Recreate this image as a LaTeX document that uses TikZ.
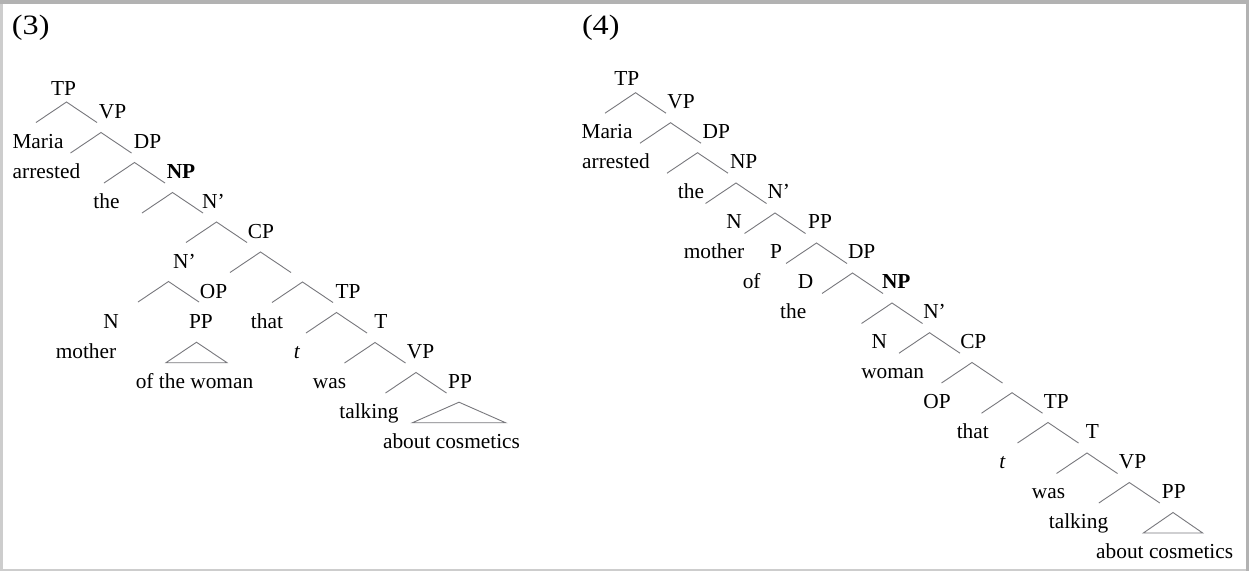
\documentclass[tikz,border=0pt]{standalone}
\usepackage{fontspec}
\setmainfont{Liberation Serif}
\definecolor{linegray}{RGB}{120,120,125}
\definecolor{frametop}{RGB}{178,178,178}
\definecolor{frameside}{RGB}{205,205,205}
\newcommand\mkcaret[3]{%
  \coordinate (#1) at (#2,#3);
  \coordinate (#1l) at ([shift={(-30.5,20.5)}]#1);
  \coordinate (#1r) at ([shift={(30.5,20.5)}]#1);
  \draw[br] (#1l) -- (#1) -- (#1r);}
\newcommand\mktri[4]{%
  \coordinate (#1) at (#2,#3);
  \coordinate (#1l) at ([shift={(-#4,20.5)}]#1);
  \coordinate (#1r) at ([shift={(#4,20.5)}]#1);
  \draw[br] (#1l) -- (#1) -- (#1r) -- cycle;}
\begin{document}
\begin{tikzpicture}[x=1pt,y=-1pt,
  lbl/.style={anchor=base,inner sep=0pt,outer sep=0pt,font=\fontsize{21.35pt}{24pt}\selectfont},
  num/.style={anchor=base west,inner sep=0pt,outer sep=0pt,font=\fontsize{28pt}{30pt}\selectfont},
  br/.style={draw=linegray,line width=0.9pt}]
\useasboundingbox (0,0) rectangle (1249,571);
\fill[white] (0,0) rectangle (1249,571);
\fill[frameside] (0,0) rectangle (3,571);
\fill[frameside] (0,569) rectangle (1249,571);
\fill[frametop] (1246,0) rectangle (1249,571);
\fill[frametop] (0,0) rectangle (1249,4);

% ---------- (3) ----------
\node[num] (n3) at (12,34) {\scalebox{1.15}[1]{(3)}};
\node[lbl] (a1) at (63.5,95) {TP};
\node[lbl] (a2) at (112.5,118) {VP};
\node[lbl] (a3) at (38,148) {Maria};
\node[lbl] (a4) at (147.5,148) {DP};
\node[lbl] (a5) at (46.5,178) {arrested};
\node[lbl] (a6) at (181,178) {\textbf{NP}};
\node[lbl] (a7) at (106.5,208) {the};
\node[lbl] (a8) at (213.5,208) {N’};
\node[lbl] (a9) at (261,238) {CP};
\node[lbl] (a10) at (184.5,268) {N’};
\node[lbl] (a11) at (213.5,298) {OP};
\node[lbl] (a12) at (348,298) {TP};
\node[lbl] (a13) at (111,328) {N};
\node[lbl] (a14) at (201,328) {PP};
\node[lbl] (a15) at (267,328) {that};
\node[lbl] (a16) at (381,328) {T};
\node[lbl] (a17) at (86,358) {mother};
\node[lbl] (a18) at (297,358) {\textit{t}};
\node[lbl] (a19) at (420.5,358) {VP};
\node[lbl] (a20) at (194.5,388) {of the woman};
\node[lbl] (a21) at (329.5,388) {was};
\node[lbl] (a22) at (460,388) {PP};
\node[lbl] (a23) at (369,418) {talking};
\node[lbl] (a24) at (451.5,448) {about cosmetics};

\mkcaret{c1}{66.5}{102}
\mkcaret{c2}{101}{132.5}
\mkcaret{c3}{134.5}{162.5}
\mkcaret{c4}{172.5}{192.5}
\mkcaret{c5}{216.5}{222}
\mkcaret{c6}{260.5}{252}
\mkcaret{c7}{168.5}{281.5}
\mkcaret{c8}{302.5}{282}
\mkcaret{c9}{336.5}{312.5}
\mkcaret{c10}{375}{342.5}
\mkcaret{c11}{416}{372.5}
\mktri{tr1}{196.5}{342.2}{30.5}
\mktri{tr2}{459}{402.2}{46.5}

% ---------- (4) ----------
\node[num] (n4) at (582,34) {\scalebox{1.15}[1]{(4)}};
\node[lbl] (b1) at (626.7,85) {TP};
\node[lbl] (b2) at (681,108.3) {VP};
\node[lbl] (b3) at (607,138.3) {Maria};
\node[lbl] (b4) at (716.3,138.3) {DP};
\node[lbl] (b5) at (616,168.3) {arrested};
\node[lbl] (b6) at (743.7,168.3) {NP};
\node[lbl] (b7) at (691,198.3) {the};
\node[lbl] (b8) at (778.8,198.3) {N’};
\node[lbl] (b9) at (734,228.3) {N};
\node[lbl] (b10) at (820,228.3) {PP};
\node[lbl] (b11) at (714,258.3) {mother};
\node[lbl] (b12) at (776,258.3) {P};
\node[lbl] (b13) at (861.7,258.3) {DP};
\node[lbl] (b14) at (751.7,288.3) {of};
\node[lbl] (b15) at (805.5,288.3) {D};
\node[lbl] (b16) at (896.3,288.3) {\textbf{NP}};
\node[lbl] (b17) at (793.2,318.3) {the};
\node[lbl] (b18) at (934.5,318.3) {N’};
\node[lbl] (b19) at (879.2,348.3) {N};
\node[lbl] (b20) at (973.3,348.3) {CP};
\node[lbl] (b21) at (892.7,378) {woman};
\node[lbl] (b22) at (937,408) {OP};
\node[lbl] (b23) at (1056.2,408) {TP};
\node[lbl] (b24) at (972.8,438) {that};
\node[lbl] (b25) at (1092.5,438) {T};
\node[lbl] (b26) at (1002.5,468) {\textit{t}};
\node[lbl] (b27) at (1132.5,468) {VP};
\node[lbl] (b28) at (1048.5,498.3) {was};
\node[lbl] (b29) at (1173.8,498.3) {PP};
\node[lbl] (b30) at (1078.5,528.3) {talking};
\node[lbl] (b31) at (1164.7,558.3) {about cosmetics};

\mkcaret{d1}{635.5}{92.7}
\mkcaret{d2}{670.5}{122.7}
\mkcaret{d3}{697.5}{152.7}
\mkcaret{d4}{736}{183}
\mkcaret{d5}{775}{213}
\mkcaret{d6}{816.5}{243}
\mkcaret{d7}{852.5}{273}
\mkcaret{d8}{892}{303}
\mkcaret{d9}{929.5}{332.7}
\mkcaret{d10}{972}{362.5}
\mkcaret{d11}{1012}{392.7}
\mkcaret{d12}{1048}{422.5}
\mkcaret{d13}{1087}{453}
\mkcaret{d14}{1129.3}{482.5}
\mktri{tr3}{1173}{512.5}{29.7}
\end{tikzpicture}
\end{document}
